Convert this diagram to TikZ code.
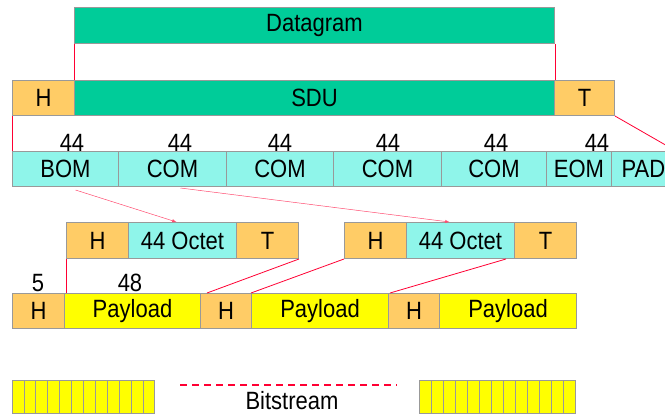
\documentclass[tikz,border=0pt]{standalone}
\usepackage{fontspec}
\setmainfont{Liberation Sans}[FakeStretch=0.88]
\definecolor{orangeC}{HTML}{FFCC66}
\definecolor{greenC}{HTML}{00CC99}
\definecolor{cyanC}{HTML}{8FF5EA}
\definecolor{yellowC}{HTML}{FFFF00}
\definecolor{borderC}{HTML}{999999}
\definecolor{redC}{HTML}{FF0033}
\tikzset{
  cell/.style={draw=borderC, line width=1pt, anchor=north west, inner sep=0pt, minimum height=35pt},
  link/.style={draw=redC, line width=0.8pt},
  hint/.style={draw=redC!70, line width=0.5pt, -latex},
  num/.style={inner sep=1pt},
  bar/.style={draw=borderC, fill=yellowC, line width=0.8pt}
}
\begin{document}
\begin{tikzpicture}[x=1pt,y=-1pt,font=\fontsize{25}{30}\selectfont]
\useasboundingbox (0,0) rectangle (665,416);

% 数据报
\node[cell,fill=greenC,minimum width=480pt,minimum height=36pt] (dg) at (74,7) {Datagram};

% H, SDU, T
\node[cell,fill=orangeC,minimum width=62pt] (sh) at (12,80) {H};
\node[cell,fill=greenC,minimum width=480pt] (sdu) at (74,80) {SDU};
\node[cell,fill=orangeC,minimum width=60pt] (st) at (554,80) {T};
\draw[link] (dg.south west) -- (sdu.north west);
\draw[link] (dg.south east) -- (sdu.north east);

% 分段 (BOM, COM, EOM, PAD)
\foreach \x/\w/\t/\n in {12/106/BOM/s1, 118/108/COM/s2, 226/107/COM/s3, 333/108/COM/s4, 441/105/COM/s5, 546/65/EOM/s6, 611/64/PAD/s7}{
  \node[cell,fill=cyanC,minimum width=\w pt] (\n) at (\x,151) {\t};
}
\foreach \x [count=\i] in {72,180,280,388,496,597}{
  \node[num] (n\i) at (\x,143) {44};
}
\draw[link] (sh.south west) -- (s1.north west);
\draw[link] (st.south east) -- (s7.north east);

% 信元 (H, 44 Octet, T)
\foreach \x/\n in {66/A, 344/B}{
  \node[cell,fill=orangeC,minimum width=62pt,minimum height=36pt] (h\n) at (\x,222) {H};
  \node[cell,fill=cyanC,minimum width=108pt,minimum height=36pt] (o\n) at ({\x+62},222) {44 Octet};
  \node[cell,fill=orangeC,minimum width=62pt,minimum height=36pt] (t\n) at ({\x+170},222) {T};
}
\draw[hint] ([shift={(10,3)}]s1.south) -- ([xshift=-6pt]oA.north);
\draw[hint] ([shift={(8,1)}]s2.south) -- ([xshift=-11pt]oB.north);

% H + Payload
\foreach \x/\w/\t/\c/\n in {12/52/H/orangeC/c1, 64/136/Payload/yellowC/p1, 200/51/H/orangeC/c2, 251/137/Payload/yellowC/p2, 388/51/H/orangeC/c3, 439/137/Payload/yellowC/p3}{
  \node[cell,fill=\c,minimum width=\w pt] (\n) at (\x,293) {\t};
}
\node[num] (n5) at (38,283) {5};
\node[num] (n48) at (130,283) {48};
\draw[link] (hA.south west) -- (hA.south west |- p1.north);
\draw[link] (tA.south east) -- ([xshift=7pt]c2.north west);
\draw[link] (hB.south west) -- (p2.north west);
\draw[link] ([xshift=-9pt]oB.south east) -- ([xshift=2pt]c3.north west);

% 比特流
\foreach \i in {0,...,11}{
  \draw[bar] ({12+\i*11.9},380) rectangle ++(11.9,33);
}
\foreach \i in {0,...,12}{
  \draw[bar] ({419+\i*12},380) rectangle ++(12,33);
}
\coordinate (b1) at (180,385);
\coordinate (b2) at (397,385);
\draw[redC, line width=1.5pt, dash pattern=on 7pt off 5pt] (b1) -- (b2);
\node[inner sep=0pt] (bs) at (292,401) {Bitstream};
\end{tikzpicture}
\end{document}
